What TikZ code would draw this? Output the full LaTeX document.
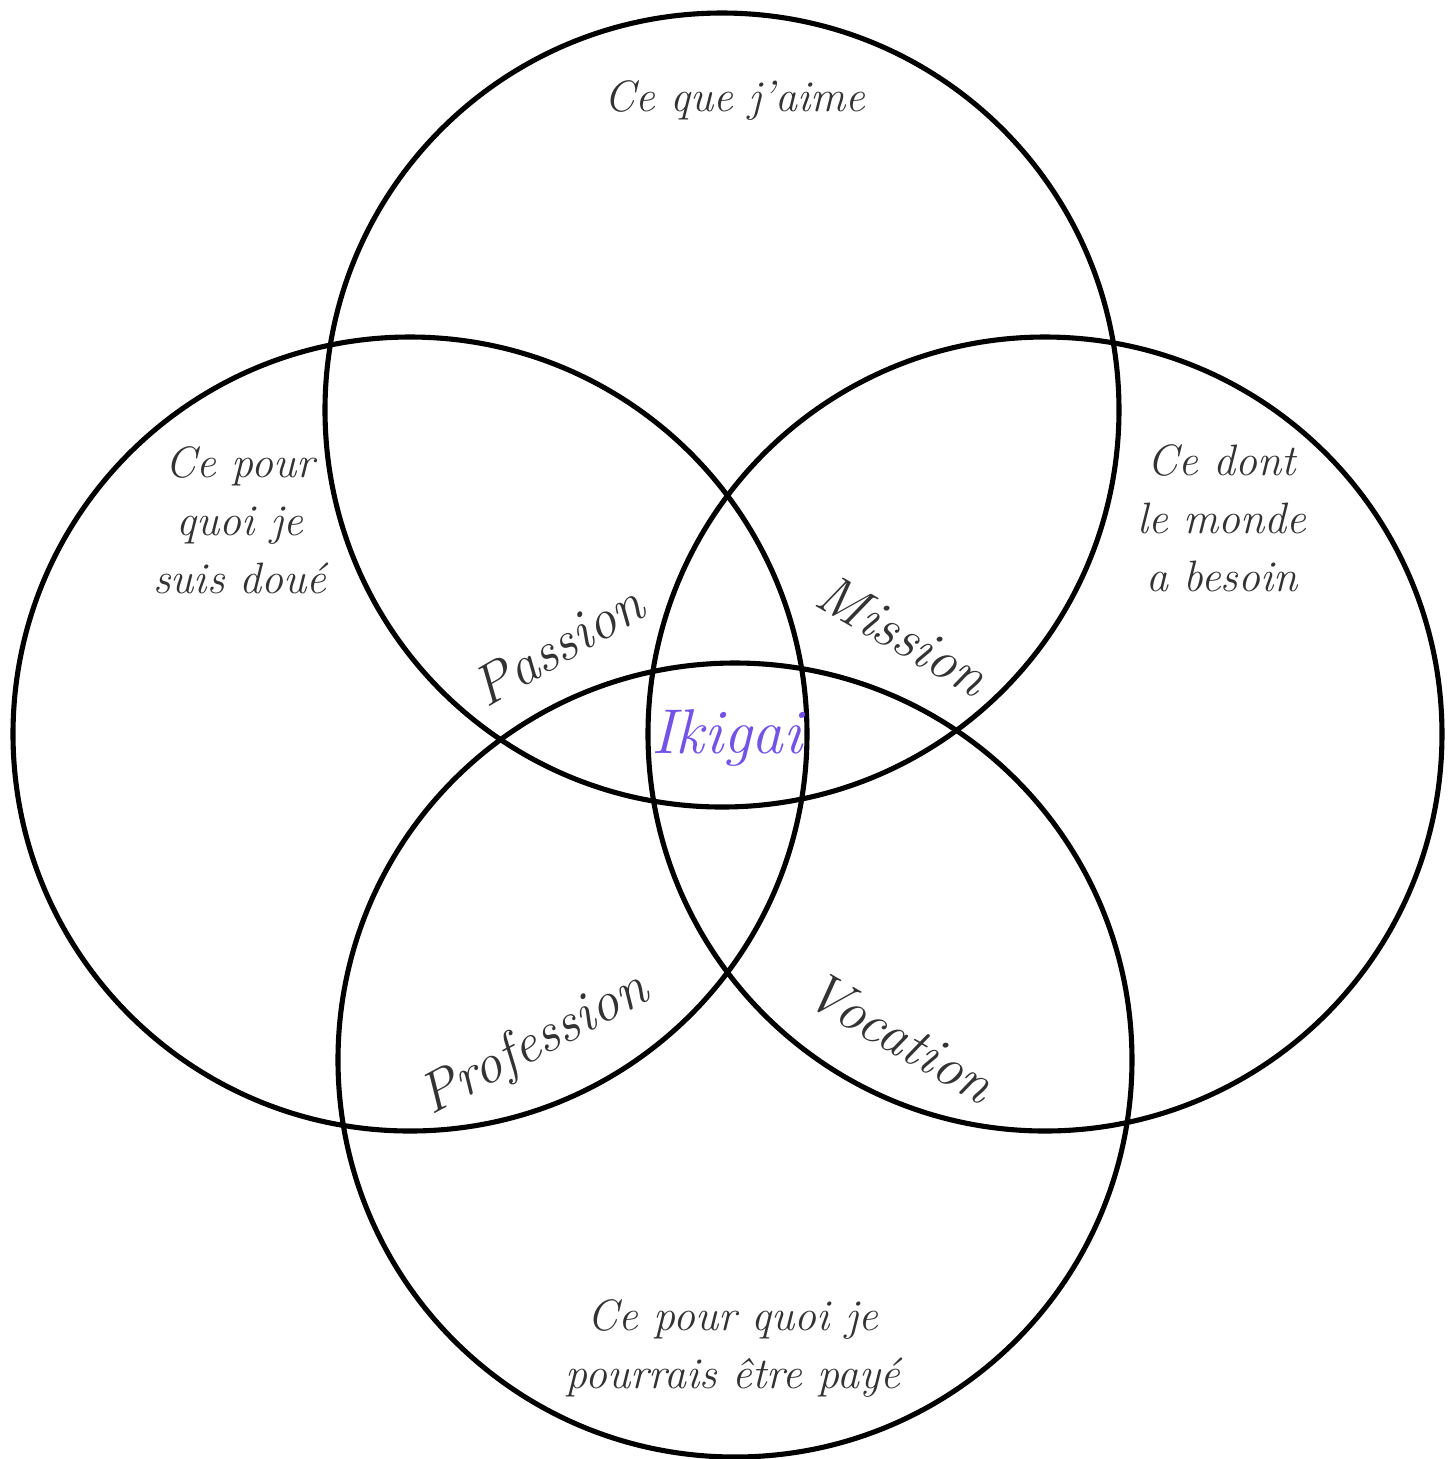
\documentclass[tikz,border=0pt]{standalone}
\usepackage{xcolor}
\definecolor{ink}{HTML}{333333}
\definecolor{ikicol}{HTML}{7352E6}
\begin{document}
\begin{tikzpicture}[x=0.01cm,y=-0.01cm,
  ring/.style={draw=black,line width=1.45pt},
  lab/.style={text=ink,font=\fontsize{12.5}{16.5}\selectfont\itshape,align=center,inner sep=0pt},
  zone/.style={text=ink,font=\fontsize{16}{18}\selectfont\itshape,inner sep=0pt}]
\useasboundingbox (0,0) rectangle (1456,1459);
\node[ring,circle,minimum size=794*0.01cm,inner sep=0pt] (top) at (722,410) {};
\node[ring,circle,minimum size=794*0.01cm,inner sep=0pt] (left) at (410,734) {};
\node[ring,circle,minimum size=794*0.01cm,inner sep=0pt] (right) at (1045,734) {};
\node[ring,circle,minimum size=794*0.01cm,inner sep=0pt] (bottom) at (735,1060) {};
\node[lab] (tlab) at (735,100) {Ce que j'aime};
\node[lab] (llab) at (240,520) {Ce pour\\quoi je\\suis doué};
\node[lab] (rlab) at (1222,518) {Ce dont\\le monde\\a besoin};
\node[lab] (blab) at (733,1348) {Ce pour quoi je\\pourrais être payé};
\node[zone,rotate=30] (passion) at (558,645) {Passion};
\node[zone,rotate=-30] (mission) at (903,635) {Mission};
\node[zone,rotate=28] (profession) at (535,1045) {Profession};
\node[zone,rotate=-30] (vocation) at (900,1037) {Vocation};
\node[zone,text=ikicol,font=\fontsize{18}{20}\selectfont\itshape] (ikigai) at (727,738) {Ikigai};
\end{tikzpicture}
\end{document}
